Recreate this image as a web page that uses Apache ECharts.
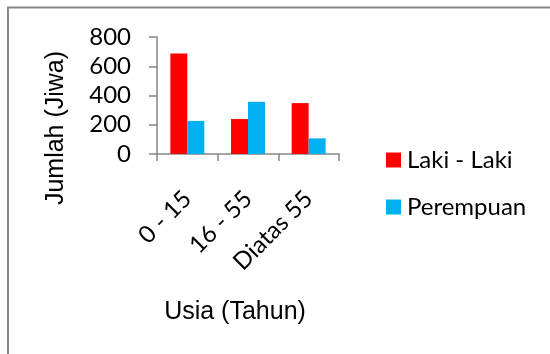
<!DOCTYPE html>
<html>
<head>
<meta charset="utf-8">
<script src="https://cdn.jsdelivr.net/npm/echarts@6/dist/echarts.min.js"></script>
<style>
html,body{margin:0;padding:0;background:#fff;}
#c{width:550px;height:354px;}
</style>
</head>
<body>
<div id="c"></div>
<script>
var categories = ['0 - 15', '16 - 55', 'Diatas 55'];
var seriesNames = ['Laki - Laki', 'Perempuan'];
var lakiLaki = [688, 239, 348];
var perempuan = [226, 358, 107];
var yTicks = [0, 200, 400, 600, 800];
var xTitle = 'Usia (Tahun)';
var yTitle = 'Jumlah (Jiwa)';

var chart = echarts.init(document.getElementById('c'));
var labelFont = 'Lato, "Open Sans", sans-serif';
var titleFont = '"Liberation Sans", Arial, sans-serif';
chart.setOption({
  animation: false,
  backgroundColor: '#ffffff',
  grid: {left: 157, right: 211, top: 37, bottom: 200, containLabel: false},
  legend: {
    orient: 'vertical', left: 381, top: 143,
    itemWidth: 15, itemHeight: 15, itemGap: 23,
    icon: 'rect',
    textStyle: {fontFamily: labelFont, fontSize: 24, lineHeight: 24, color: '#000', padding: [0,0,0,1]},
    data: seriesNames
  },
  xAxis: {
    type: 'category', data: categories,
    axisLine: {lineStyle: {color: '#868686', width: 1.5}},
    axisTick: {show: true, length: 7, alignWithLabel: false, lineStyle: {color: '#868686', width: 1.5}},
    axisLabel: {rotate: 45, margin: 41, fontFamily: labelFont, fontSize: 24, color: '#000', interval: 0}
  },
  yAxis: {
    type: 'value', min: yTicks[0], max: yTicks[yTicks.length-1], interval: 200,
    splitLine: {show: false},
    axisLine: {show: true, lineStyle: {color: '#868686', width: 1.5}},
    axisTick: {show: true, length: 8, lineStyle: {color: '#868686', width: 1.5}},
    axisLabel: {margin: 26, fontFamily: labelFont, fontSize: 24, color: '#000'}
  },
  series: [
    {name: seriesNames[0], type: 'bar', data: lakiLaki, barGap: '0%', barCategoryGap: '44%', itemStyle: {color: '#FF0000'}},
    {name: seriesNames[1], type: 'bar', data: perempuan, barGap: '0%', barCategoryGap: '44%', itemStyle: {color: '#00B0F0'}}
  ],
  graphic: [
    {type: 'polyline', shape: {points: [[8, 354], [8, 7.5], [550, 7.5]]}, style: {stroke: '#878787', lineWidth: 2, fill: null}},
    {type: 'text', x: 56, y: 128, rotation: Math.PI/2,
     style: {text: yTitle, font: '25px ' + titleFont, fill: '#000', textAlign: 'center', textVerticalAlign: 'middle'}},
    {type: 'text', x: 235, y: 312,
     style: {text: xTitle, font: '25px ' + titleFont, fill: '#000', textAlign: 'center', textVerticalAlign: 'middle'}}
  ]
});
</script>
</body>
</html>
